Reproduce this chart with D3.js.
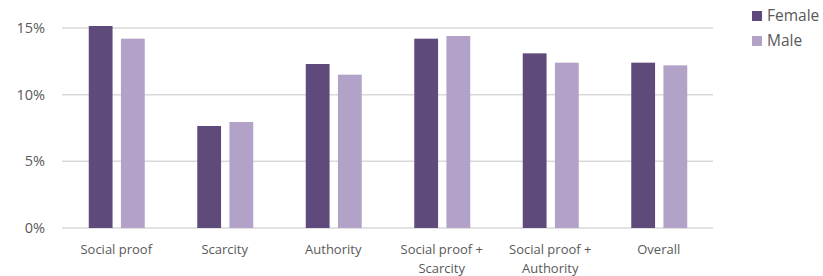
<!DOCTYPE html>
<html>
<head>
<meta charset="utf-8">
<script src="https://d3js.org/d3.v7.min.js"></script>
<style>
  body { margin: 0; background: #fff; }
  svg text { font-family: "Open Sans", "Liberation Sans", sans-serif; fill: #595959; }
</style>
</head>
<body>
<svg width="823" height="276"></svg>
<script>
// chart data
var categories = ["Social proof", "Scarcity", "Authority", "Social proof + Scarcity", "Social proof + Authority", "Overall"];
var catLines = [["Social proof"], ["Scarcity"], ["Authority"], ["Social proof +", "Scarcity"], ["Social proof +", "Authority"], ["Overall"]];
var female = [0.1515, 0.0765, 0.123, 0.142, 0.131, 0.124];
var male = [0.142, 0.0795, 0.115, 0.144, 0.124, 0.122];
var seriesNames = ["Female", "Male"];
var yTicks = [0, 0.05, 0.10, 0.15];

var colors = { Female: "#5f4b7b", Male: "#b2a2c7" };

var svg = d3.select("svg");
var plotLeft = 62, plotRight = 713, plotTop = 28, plotBottom = 228;

var x = d3.scaleBand().domain(categories).range([plotLeft, plotRight]).paddingInner(0).paddingOuter(0);
var x1 = d3.scaleBand().domain(seriesNames).range([0, 56]).paddingInner(0.26);
var y = d3.scaleLinear().domain([0, 0.15]).range([plotBottom, plotTop]);

// gridlines
svg.append("g")
  .selectAll("line")
  .data(yTicks)
  .enter()
  .append("line")
  .attr("x1", plotLeft)
  .attr("x2", plotRight)
  .attr("y1", function(d) { return y(d); })
  .attr("y2", function(d) { return y(d); })
  .attr("stroke", "#d9d9d9")
  .attr("stroke-width", 1.5);

// y labels
svg.append("g")
  .selectAll("text")
  .data(yTicks)
  .enter()
  .append("text")
  .attr("x", 45)
  .attr("y", function(d) { return y(d); })
  .attr("dy", "0.35em")
  .attr("text-anchor", "end")
  .attr("font-size", "14.5px")
  .text(d3.format(".0%"));

// bars
var rows = categories.map(function(c, i) {
  return { cat: c, values: [{ name: "Female", v: female[i] }, { name: "Male", v: male[i] }] };
});

var groups = svg.append("g")
  .selectAll("g")
  .data(rows)
  .enter()
  .append("g")
  .attr("transform", function(d) {
    return "translate(" + (x(d.cat) + x.bandwidth() / 2 - 27.5) + ",0)";
  });

groups.selectAll("rect")
  .data(function(d) { return d.values; })
  .enter()
  .append("rect")
  .attr("x", function(d) { return x1(d.name); })
  .attr("width", x1.bandwidth())
  .attr("y", function(d) { return y(d.v); })
  .attr("height", function(d) { return y(0) - y(d.v); })
  .attr("fill", function(d) { return colors[d.name]; });

// x labels
var xl = svg.append("g")
  .selectAll("text")
  .data(categories)
  .enter()
  .append("text")
  .attr("text-anchor", "middle")
  .attr("font-size", "13px")
  .attr("x", function(d) { return x(d) + x.bandwidth() / 2; })
  .attr("y", 254);

xl.each(function(d, i) {
  var t = d3.select(this);
  catLines[i].forEach(function(line, j) {
    t.append("tspan")
      .attr("x", x(d) + x.bandwidth() / 2)
      .attr("dy", j === 0 ? 0 : 19)
      .text(line);
  });
});

// legend
var legend = svg.append("g")
  .selectAll("g")
  .data(seriesNames)
  .enter()
  .append("g")
  .attr("transform", function(d, i) { return "translate(752," + (11 + i * 25) + ")"; });

legend.append("rect")
  .attr("width", 10)
  .attr("height", 10)
  .attr("fill", function(d) { return colors[d]; });

legend.append("text")
  .attr("x", 15)
  .attr("y", 5)
  .attr("dy", "0.35em")
  .attr("font-size", "15.5px")
  .text(function(d) { return d; });
</script>
</body>
</html>
